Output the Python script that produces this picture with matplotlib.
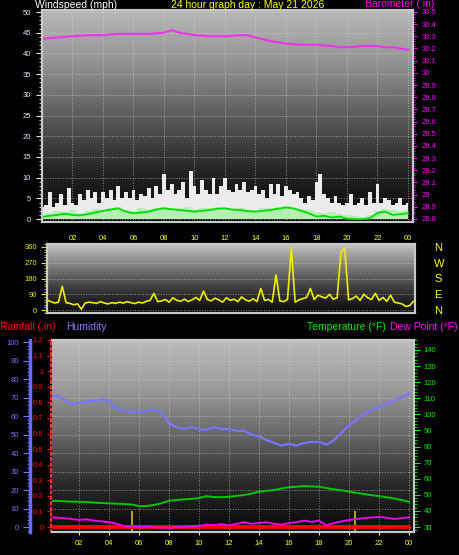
import numpy as np
import matplotlib.pyplot as plt
from matplotlib.colors import LinearSegmentedColormap
from matplotlib.ticker import MultipleLocator

plt.rcParams['font.family'] = ['Liberation Sans', 'DejaVu Sans']

W, H = 459, 555
PX = 0.72  # points per pixel at dpi 100

title = '24 hour graph day : May 21 2026'
hour_ticks = [2, 4, 6, 8, 10, 12, 14, 16, 18, 20, 22, 24]
hour_labels = ['02', '04', '06', '08', '10', '12', '14', '16', '18', '20', '22', '00']

# wind gust (mph), every 15 min
gust = [3, 3.5, 6.5, 3, 4, 6, 3.5, 7.5, 4, 3.5, 6, 4.5, 7, 5, 6.5, 4,
        6.5, 5, 7, 4.5, 8, 5, 6.5, 5, 7, 4.5, 6, 5.5, 7.5, 5, 8, 6,
        11, 7, 8.5, 6, 7, 9, 5, 11.5, 8, 6, 9.5, 7, 6, 10, 6, 8,
        10, 7, 6.5, 8.5, 7, 9, 6.5, 7, 8, 6, 7, 5, 8.5, 6, 8.5, 5.5,
        8, 7, 6, 6.5, 5, 4, 5.5, 4.5, 9, 11, 6, 5, 4, 5.5, 4, 3.5,
        4, 6, 3.5, 4, 5, 3.5, 6.5, 4, 8.5, 4, 5, 4.5, 3.5, 4, 5, 3.5, 4]
# wind speed (mph), every 30 min
speed = [1.0, 1.5, 2.0, 1.8, 2.2, 1.5, 2.0, 2.5, 2.2, 2.8, 3.0, 2.2, 2.0, 2.6, 2.4, 2.8,
         3.0, 2.5, 2.6, 2.9, 2.4, 2.8, 2.6, 3.0, 2.8, 2.5, 2.7, 2.4, 2.2, 2.6, 2.8, 3.0,
         3.1, 2.6, 2.5, 2.2, 1.8, 1.5, 1.6, 1.2, 1.0, 0.8, 0.6, 0.9, 2.0, 2.4, 2.2, 2.0, 2.3]
# average wind (mph), every 30 min
avg_wind = [0.5, 0.8, 1.0, 1.3, 1.0, 0.9, 1.2, 1.6, 2.0, 2.3, 2.6, 1.8, 1.4, 1.6, 1.8, 2.3,
            2.6, 2.4, 2.2, 2.0, 1.8, 2.0, 2.2, 2.5, 2.6, 2.3, 2.2, 1.9, 1.8, 2.0, 2.2, 2.5,
            2.8, 2.6, 2.0, 1.4, 0.6, 0.8, 0.4, 0.6, 0.1, 0.0, 0.0, 0.2, 1.5, 1.8, 1.0, 1.2, 1.4]
# barometer (in)
baro_hours = [0, 1, 2, 3, 4, 5, 6, 7, 8, 8.5, 9, 10, 11, 12, 13, 13.5, 14, 15, 16, 17,
              18, 19, 19.5, 20, 21, 22, 22.5, 23, 23.5, 24]
baro = [30.28, 30.29, 30.30, 30.31, 30.31, 30.32, 30.32, 30.32, 30.33, 30.35,
        30.33, 30.31, 30.30, 30.30, 30.31, 30.31, 30.29, 30.26, 30.24, 30.23,
        30.23, 30.22, 30.21, 30.21, 30.22, 30.22, 30.21, 30.21, 30.20, 30.19]
baro_ticks = [28.8, 28.9, 29.0, 29.1, 29.2, 29.3, 29.4, 29.5, 29.6, 29.7, 29.8, 29.9,
              30.0, 30.1, 30.2, 30.3, 30.4, 30.5]
# wind direction (deg), every 15 min
wind_dir = [57, 48, 40, 45, 135, 42, 38, 30, 35, 5, 40, 45, 42, 38, 48, 40,
            35, 42, 38, 45, 40, 48, 42, 37, 45, 40, 50, 55, 95, 48, 52, 60,
            45, 70, 55, 50, 62, 48, 58, 72, 55, 108, 60, 52, 68, 58, 45, 70,
            55, 62, 48, 75, 58, 50, 65, 48, 123, 55, 60, 45, 200, 52, 48, 60,
            355, 45, 58, 65, 72, 123, 60, 85, 75, 68, 90, 62, 70, 330, 355, 58,
            65, 80, 55, 90, 70, 60, 95, 55, 72, 50, 85, 45, 40, 35, 20, 25, 50]
dir_names = ['N', 'E', 'S', 'W', 'N']
# humidity (%), temperature and dew point (F), every 30 min
humidity = [70, 71, 69, 66.5, 67, 68, 68, 69, 68, 64,
            63, 62, 62, 63, 63.5, 62, 56, 54, 53, 54,
            53, 52.5, 54, 53, 53, 52, 52, 50, 49, 47,
            45.5, 44, 45, 44, 45.5, 46, 46, 44.5, 47, 51,
            55, 58, 61, 63, 65, 66.5, 68.5, 70, 72]
temperature = [46.3, 46.2, 46.0, 45.8, 45.7, 45.5, 45.2, 44.9, 44.7, 44.5,
               44.3, 44.0, 43.0, 43.0, 43.7, 44.8, 46.3, 46.8, 47.2, 47.5,
               48.0, 49.2, 48.6, 48.5, 48.8, 49.3, 49.9, 50.8, 51.9, 52.5,
               53.0, 54.0, 54.7, 55.0, 55.5, 55.2, 55.0, 54.2, 53.4, 52.8,
               52.0, 51.2, 50.5, 49.8, 49.2, 48.5, 47.8, 46.8, 45.7]
dew_point = [36, 35.8, 35.5, 35, 34.4, 34.8, 34, 33.5, 33, 32,
             30.6, 30.2, 30, 30.2, 29.8, 29.6, 29.5, 29.8, 30, 30.3,
             30.6, 31.5, 31.2, 31.8, 31, 32, 33, 32, 32.5, 33,
             32, 31.5, 32.5, 33, 34, 33.2, 34, 31, 32.5, 33.5,
             34.4, 35, 35.5, 36, 36.2, 35.8, 35, 35.5, 36]
# rainfall (in), hourly
rain = [0.0] * 25
rain_labels = ['0', '0.1', '0.2', '0.3', '0.4', '0.5', '0.6', '0.7', '0.8', '0.9', '1', '1.1', '1.2']
mark_hours = [5.5, 20.4]
mark_vals = [0.1, 0.1]


def box(l, t, r, b):
    return [l / W, 1 - b / H, (r - l) / W, (b - t) / H]


def grad(ax, colors):
    cmap = LinearSegmentedColormap.from_list('bg', colors)
    ax.imshow(np.linspace(0, 1, 256).reshape(-1, 1), cmap=cmap, origin='lower',
              extent=(0, 1, 0, 1), transform=ax.transAxes, aspect='auto', zorder=0)


def frame(ax):
    for s in ax.spines.values():
        s.set_color('#c8c8c8')
        s.set_linewidth(1.5)


def hours(vals):
    return np.linspace(0, 24, len(vals))


fig = plt.figure(figsize=(W / 100, H / 100), dpi=100, facecolor='black')

# ---- wind speed / barometer
ax_w = fig.add_axes(box(42, 10, 413, 222))
ax_w.set_facecolor('black')
grad(ax_w, ['#050505', '#262626', '#5c5c5c', '#939393', '#b8b8b8'])
ax_w.fill_between(hours(gust), 0, gust, step='mid', color='#ececec', lw=0, zorder=2)
ax_w.fill_between(hours(speed), 0, speed, step='mid', color='#b4efb4', lw=0, zorder=3)
ax_w.plot(hours(avg_wind), avg_wind, color='#00dd00', lw=1.3, zorder=4)
ax_w.set_xlim(0, 24.33)
ax_w.set_ylim(-0.7, 50.5)
ax_w.set_yticks(range(0, 51, 5))
ax_w.yaxis.set_minor_locator(MultipleLocator(1))
ax_w.set_xticks(hour_ticks, hour_labels)
ax_w.tick_params(axis='y', which='both', colors='#dfe6ff', labelsize=5.5, length=4, pad=4)
ax_w.tick_params(axis='y', which='minor', length=2)
ax_w.tick_params(axis='x', colors='#ffff00', labelsize=5.5, length=0, pad=9)
ax_w.grid(color='#d8d8d8', ls=':', lw=0.7, alpha=0.6)
frame(ax_w)

ax_p = ax_w.twinx()
ax_p.plot(baro_hours, baro, color='#ee33ee', lw=1.5)
ax_p.set_ylim(28.775, 30.516)
ax_p.set_yticks(baro_ticks, [f'{v:g}' for v in baro_ticks])
ax_p.yaxis.set_minor_locator(MultipleLocator(0.02))
ax_p.tick_params(axis='y', which='both', colors='#ff00ff', labelsize=5.5, length=3, pad=3)
ax_p.tick_params(axis='y', which='minor', length=1.5)
frame(ax_p)

# ---- wind direction
ax_d = fig.add_axes(box(47, 244, 415, 313))
ax_d.set_facecolor('black')
grad(ax_d, ['#0a0a0a', '#383838', '#7a7a7a', '#c4c4c4'])
ax_d.plot(hours(wind_dir), wind_dir, color='#eeee00', lw=1.2, zorder=3)
ax_d.set_xlim(0, 24.1)
ax_d.set_ylim(-17, 377)
ax_d.set_xticks([])
ax_d.set_yticks([0, 90, 180, 270, 360])
ax_d.yaxis.set_minor_locator(MultipleLocator(15))
ax_d.tick_params(axis='y', which='both', colors='#e8e800', labelsize=5.5, length=4, pad=3)
ax_d.tick_params(axis='y', which='minor', length=2)
ax_d.grid(axis='y', color='#d8d8d8', ls=':', lw=0.7, alpha=0.6)
frame(ax_d)

ax_c = ax_d.twinx()
ax_c.set_ylim(-17, 377)
ax_c.set_yticks([0, 90, 180, 270, 360], dir_names)
ax_c.tick_params(axis='y', colors='#ffff00', labelsize=8, length=0, pad=14)
frame(ax_c)

# ---- humidity / rainfall / temperature
ax_h = fig.add_axes(box(52, 340, 414, 532))
ax_h.set_facecolor('black')
grad(ax_h, ['#080808', '#2a2a2a', '#666666', '#9c9c9c', '#bcbcbc'])
ax_h.plot(hours(humidity), humidity, color='#7676ff', lw=1.6, zorder=3)
ax_h.set_xlim(0.2, 24.33)
ax_h.set_ylim(-2.7, 101.1)
ax_h.set_yticks(range(0, 101, 10))
ax_h.yaxis.set_minor_locator(MultipleLocator(2))
ax_h.set_xticks(hour_ticks, hour_labels)
ax_h.tick_params(axis='y', which='both', colors='#7676ff', labelsize=5.5, length=5, pad=3)
ax_h.tick_params(axis='y', which='minor', length=2.5)
ax_h.tick_params(axis='x', colors='#ffff00', labelsize=5.5, length=2, pad=4)
ax_h.grid(color='#d8d8d8', ls=':', lw=0.7, alpha=0.6)
frame(ax_h)
ax_h.spines['left'].set_position(('outward', 22 * PX))
ax_h.spines['left'].set_color('#6a6aff')
ax_h.spines['left'].set_linewidth(2.5)

ax_r = ax_h.twinx()
ax_r.yaxis.tick_left()
ax_r.plot(hours(rain), rain, color='#ff0000', lw=2.8, zorder=3)
ax_r.vlines(mark_hours, -0.032, mark_vals, color='#c8b428', lw=1.3, zorder=2)
ax_r.set_ylim(-0.032, 1.2)
ax_r.set_yticks(np.arange(13) / 10, rain_labels)
ax_r.yaxis.set_minor_locator(MultipleLocator(0.05))
ax_r.tick_params(axis='y', which='both', colors='#ff0000', labelsize=5.5, length=3, pad=2)
ax_r.tick_params(axis='y', which='minor', length=1.5)
frame(ax_r)
ax_r.spines['right'].set_visible(False)
ax_r.spines['left'].set_color('#ff3030')
ax_r.spines['left'].set_linestyle(':')
ax_r.spines['left'].set_position(('outward', 1.5 * PX))

ax_t = ax_h.twinx()
ax_t.plot(hours(temperature), temperature, color='#00c800', lw=1.4, zorder=3)
ax_t.plot(hours(dew_point), dew_point, color='#ee00ee', lw=1.4, zorder=3)
ax_t.set_ylim(26.9, 146.2)
ax_t.set_yticks(range(30, 141, 10))
ax_t.yaxis.set_minor_locator(MultipleLocator(2))
ax_t.tick_params(axis='y', which='both', colors='#00ee00', labelsize=5.5, length=4, pad=3)
ax_t.tick_params(axis='y', which='minor', length=2)
ax_t.spines['left'].set_visible(False)
ax_t.spines['right'].set_color('#c8c8c8')
ax_t.spines['top'].set_visible(False)
ax_t.spines['bottom'].set_visible(False)


# ---- headings
def label(x, y, s, color, ha='left'):
    fig.text(x / W, 1 - y / H, s, color=color, fontsize=7.5, ha=ha, va='center')


label(35, 5, 'Windspeed (mph)', '#ffffff')
label(248, 5, title, '#ffff00', ha='center')
label(434, 4, 'Barometer (.in)', '#ff00ff', ha='right')
label(0, 327, 'Rainfall (.in)', '#ff0000')
label(66, 327, 'Humidity', '#8080ff')
label(386, 327, 'Temperature (°F)', '#00ee00', ha='right')
label(458, 327, 'Dew Point (°F)', '#ff00ff', ha='right')

fig.savefig('out.png', dpi=100, facecolor='black')
